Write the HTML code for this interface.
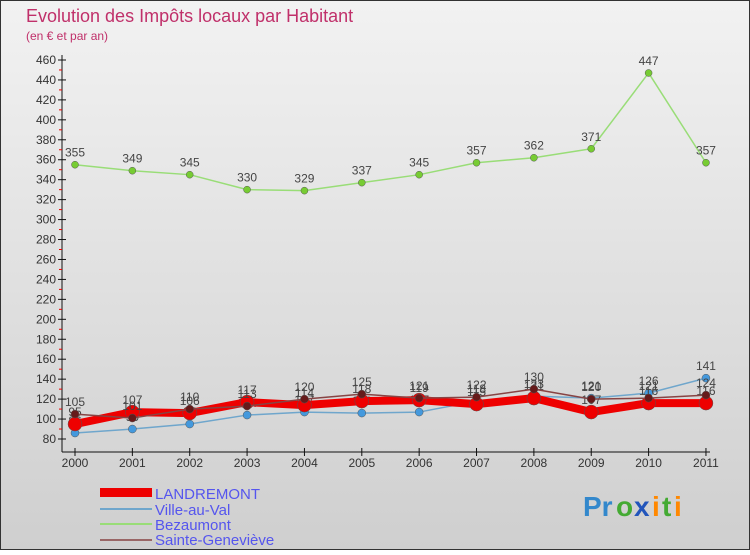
<!DOCTYPE html>
<html><head><meta charset="utf-8"><style>
body{margin:0;width:750px;height:550px;overflow:hidden;font-family:"Liberation Sans",sans-serif}
</style></head><body>
<svg id="chart" width="750" height="550" xmlns="http://www.w3.org/2000/svg">
<defs><linearGradient id="bg" x1="0" y1="0" x2="0" y2="1"><stop offset="0" stop-color="#f2f2f2"/><stop offset="1" stop-color="#cfcfcf"/></linearGradient></defs>
<rect x="0.5" y="0.5" width="749" height="549" fill="url(#bg)" stroke="#333"/>
<text x="26" y="22" font-size="18" fill="#c0306a">Evolution des Impôts locaux par Habitant</text>
<text x="26" y="40" font-size="12" fill="#c0306a">(en € et par an)</text>
<g id="axes"></g><g id="series"></g>
<g>
<rect x="100" y="488" width="52" height="9" fill="#ee0000"/>
<text x="155" y="499" font-size="15" fill="#5555ee">LANDREMONT</text>
<line x1="100" y1="509" x2="152" y2="509" stroke="#6fa6cc" stroke-width="2"/>
<text x="155" y="515" font-size="15" fill="#5555ee">Ville-au-Val</text>
<line x1="100" y1="524" x2="152" y2="524" stroke="#99dd77" stroke-width="2"/>
<text x="155" y="530" font-size="15" fill="#5555ee">Bezaumont</text>
<line x1="100" y1="540" x2="152" y2="540" stroke="#996666" stroke-width="2"/>
<text x="155" y="545" font-size="15" fill="#5555ee">Sainte-Geneviève</text>
</g>
<g font-size="28" font-weight="bold">
<text x="583" y="516" fill="#3388cc">Pr</text><text x="616" y="516" fill="#44aa33">o</text><text x="634" y="516" fill="#2255bb">x</text><text x="652" y="516" fill="#ff8800">i</text><text x="662" y="516" fill="#44aa33">t</text><text x="674" y="516" fill="#ff8800">i</text>
</g>
</svg>
<script>
const years=["2000","2001","2002","2003","2004","2005","2006","2007","2008","2009","2010","2011"];
const yTicks=[80,100,120,140,160,180,200,220,240,260,280,300,320,340,360,380,400,420,440,460];
const landremont=[95,107,106,117,114,118,119,115,121,107,116,116];
const villeAuVal=[86,90,95,104,107,106,107,118,123,121,126,141];
const bezaumont=[355,349,345,330,329,337,345,357,362,371,447,357];
const sainteGenevieve=[105,101,110,113,120,125,121,122,130,120,121,124];
const NS="http://www.w3.org/2000/svg";
function X(i){return 75+i*57.36;}
function Y(v){return 439-(v-80)*0.9974;}
function mk(tag,attrs,parent){const e=document.createElementNS(NS,tag);for(const k in attrs)e.setAttribute(k,attrs[k]);parent.appendChild(e);return e;}
const axes=document.getElementById('axes');
let a=mk('line',{x1:62,y1:Y(460)-5,x2:62,y2:452,stroke:'#111'},axes);


a=mk('line',{x1:62,y1:452,x2:710,y2:452,stroke:'#111'},axes);


for(let v=90;v<460;v+=20){const t=mk('line',{x1:59,y1:Y(v),x2:62,y2:Y(v),stroke:'#e00'},axes);

}
yTicks.forEach(v=>{mk('line',{x1:58,y1:Y(v),x2:66,y2:Y(v),stroke:'#111'},axes);
const t=mk('text',{x:56,y:Y(v)+4,'font-size':12,'text-anchor':'end',fill:'#333'},axes);t.textContent=v;

});
years.forEach((y,i)=>{mk('line',{x1:X(i),y1:448,x2:X(i),y2:456,stroke:'#111'},axes);
const t=mk('text',{x:X(i),y:467,'font-size':12,'text-anchor':'middle',fill:'#333'},axes);t.textContent=y;

});
const sg=document.getElementById('series');
function draw(vals,name,color,dot,w,r){
const g=mk('g',{},sg);


const p=mk('polyline',{points:vals.map((v,i)=>X(i)+','+Y(v)).join(' '),fill:'none',stroke:color,'stroke-width':w,'stroke-linejoin':'round'},g);


vals.forEach((v,i)=>{const c=mk('circle',{cx:X(i),cy:Y(v),r:r,fill:dot,stroke:'#555','stroke-width':0.5},g);


const t=mk('text',{x:X(i),y:Y(v)-8,'font-size':12,'text-anchor':'middle',fill:'#444'},g);t.textContent=v;

});
}
draw(bezaumont,'bezaumont','#99dd77','#77cc33',1.5,3.5);
draw(villeAuVal,'ville-au-val','#6fa6cc','#4499dd',1.5,4);
draw(landremont,'landremont','#ee0000','#ee0000',8,7);
draw(sainteGenevieve,'sainte-genevieve','#884444','#661a1a',1.5,4);
</script>
</body></html>
